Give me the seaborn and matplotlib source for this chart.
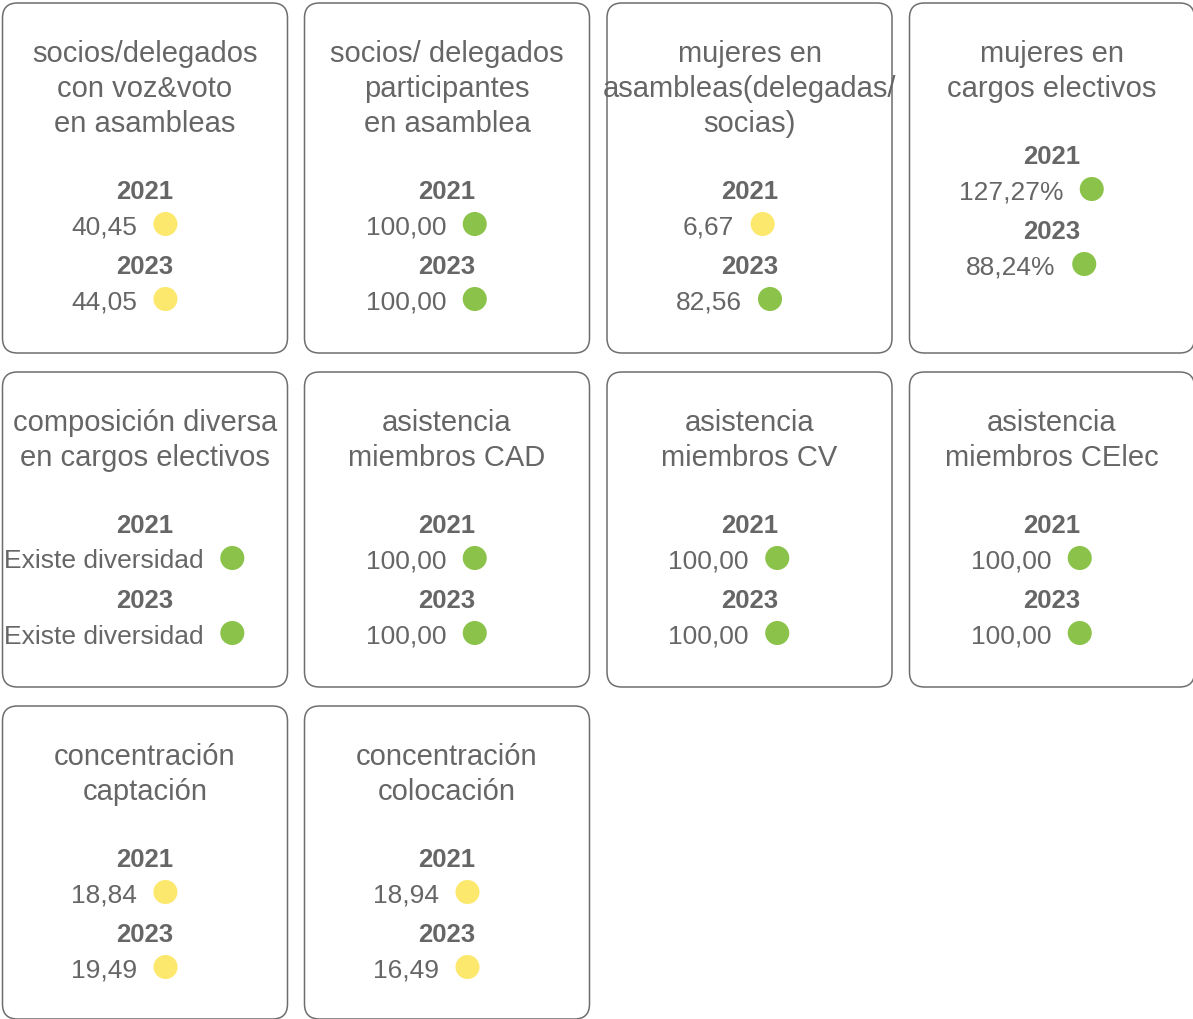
import matplotlib
matplotlib.use("Agg")
import matplotlib.pyplot as plt
from matplotlib.patches import FancyBboxPatch
import seaborn as sns
import pandas as pd

# ---- data ----
titles = [
    ["socios/delegados", "con voz&voto", "en asambleas"],
    ["socios/ delegados", "participantes", "en asamblea"],
    ["mujeres en", "asambleas(delegadas/", "socias)"],
    ["mujeres en", "cargos electivos"],
    ["composición diversa", "en cargos electivos"],
    ["asistencia", "miembros CAD"],
    ["asistencia", "miembros CV"],
    ["asistencia", "miembros CElec"],
    ["concentración", "captación"],
    ["concentración", "colocación"],
]
years = ["2021", "2023"]
values_2021 = ["40,45", "100,00", "6,67", "127,27%", "Existe diversidad",
               "100,00", "100,00", "100,00", "18,84", "18,94"]
values_2023 = ["44,05", "100,00", "82,56", "88,24%", "Existe diversidad",
               "100,00", "100,00", "100,00", "19,49", "16,49"]
status_2021 = ["amarillo", "verde", "amarillo", "verde", "verde",
               "verde", "verde", "verde", "amarillo", "amarillo"]
status_2023 = ["amarillo", "verde", "verde", "verde", "verde",
               "verde", "verde", "verde", "amarillo", "amarillo"]

palette = {"amarillo": "#FDE86E", "verde": "#8BC34A"}
TXT = "#666666"
EDGE = "#6E6E6E"

sns.set_theme(style="white")
plt.rcParams["font.family"] = ["Liberation Sans", "DejaVu Sans"]

W, H = 1193, 1019
fig = plt.figure(figsize=(W / 100, H / 100), dpi=100)
ax = fig.add_axes([0, 0, 1, 1])
ax.set_xlim(0, W)
ax.set_ylim(H, 0)
ax.axis("off")
renderer = fig.canvas.get_renderer()

card_w = 285
col_left = [2.5, 304.5, 607, 909.5]
row_top = [3, 372, 706]
row_h = [350, 315, 313]

dots = []
for i, tl in enumerate(titles):
    r, c = divmod(i, 4)
    x0, y0 = col_left[c], row_top[r]
    box = FancyBboxPatch((x0, y0), card_w, row_h[r],
                         boxstyle="round,pad=0,rounding_size=15",
                         fc="white", ec=EDGE, lw=1.1, zorder=1)
    ax.add_patch(box)
    cx = x0 + card_w / 2
    y = y0 + 59
    for k, line in enumerate(tl):
        ax.text(cx, y, line, ha="center", va="baseline", fontsize=21,
                color=TXT, zorder=3)
        if k < len(tl) - 1:
            y += 35
    y += 67
    for yr, val, st in ((years[0], values_2021[i], status_2021[i]),
                        (years[1], values_2023[i], status_2023[i])):
        ax.text(cx, y, yr, ha="center", va="baseline", fontsize=18.5,
                fontweight="bold", color=TXT, zorder=3)
        y += 35.5
        t = ax.text(0, y, val, ha="left", va="baseline", fontsize=19,
                    color=TXT, zorder=3)
        w = t.get_window_extent(renderer).width
        left = cx - 20.5 - (w + 41) / 2
        t.set_x(left)
        dots.append({"x": left + w + 28.5, "y": y - 10.5, "estado": st})
        y += 39.5

df = pd.DataFrame(dots)
sns.scatterplot(data=df, x="x", y="y", hue="estado", palette=palette,
                s=300, linewidth=0, legend=False, ax=ax, zorder=4)
ax.set_xlim(0, W)
ax.set_ylim(H, 0)
ax.axis("off")

fig.savefig("out.png", dpi=100, facecolor="white")
